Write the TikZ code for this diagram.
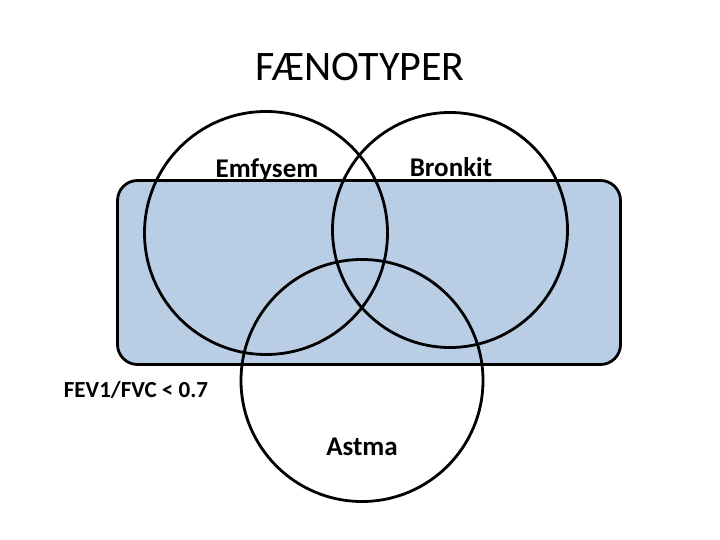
\documentclass[tikz,border=0pt]{standalone}
\usepackage{fontspec}
\setmainfont{Carlito}
\usepackage{xcolor}
\definecolor{PhenoBlue}{HTML}{B9CDE5}
\usepackage{tikz}
\usetikzlibrary{positioning}
\tikzset{
  setbox/.style={draw=black, fill=PhenoBlue, rounded corners=20pt, line width=2.8pt,
                 minimum width=503pt, minimum height=184pt, inner sep=0pt},
  setring/.style={draw=black, circle, line width=2.8pt, inner sep=0pt},
  setlabel/.style={font=\fontsize{27}{32}\selectfont\bfseries, inner sep=0pt},
  critlabel/.style={font=\fontsize{23}{28}\selectfont\bfseries, inner sep=0pt},
  titlelabel/.style={font=\fontsize{42}{50}\selectfont, inner sep=0pt}
}
\begin{document}
\begin{tikzpicture}[x=1pt, y=-1pt]
\useasboundingbox (0,0) rectangle (720,540);
\node[titlelabel] (title) at (360,67) {FÆNOTYPER};
% spirometri-boksen
\node[setbox] (fev) at (369,272.5) {};
% de tre fænotyper
\node[setring, minimum size=243pt] (emfysem) at (266,233) {};
\node[setring, minimum size=235pt] (bronkit) at (450,230) {};
\node[setring, minimum size=242pt] (astma) at (362,380.5) {};
\node[setlabel] (emfysemlabel) at (267,170) {Emfysem};
\node[setlabel] (bronkitlabel) at (451,167) {Bronkit};
\node[setlabel] (astmalabel) at (362,447) {Astma};
\node[critlabel] (fevlabel) at (136,390) {FEV1/FVC < 0.7};
\end{tikzpicture}
\end{document}
